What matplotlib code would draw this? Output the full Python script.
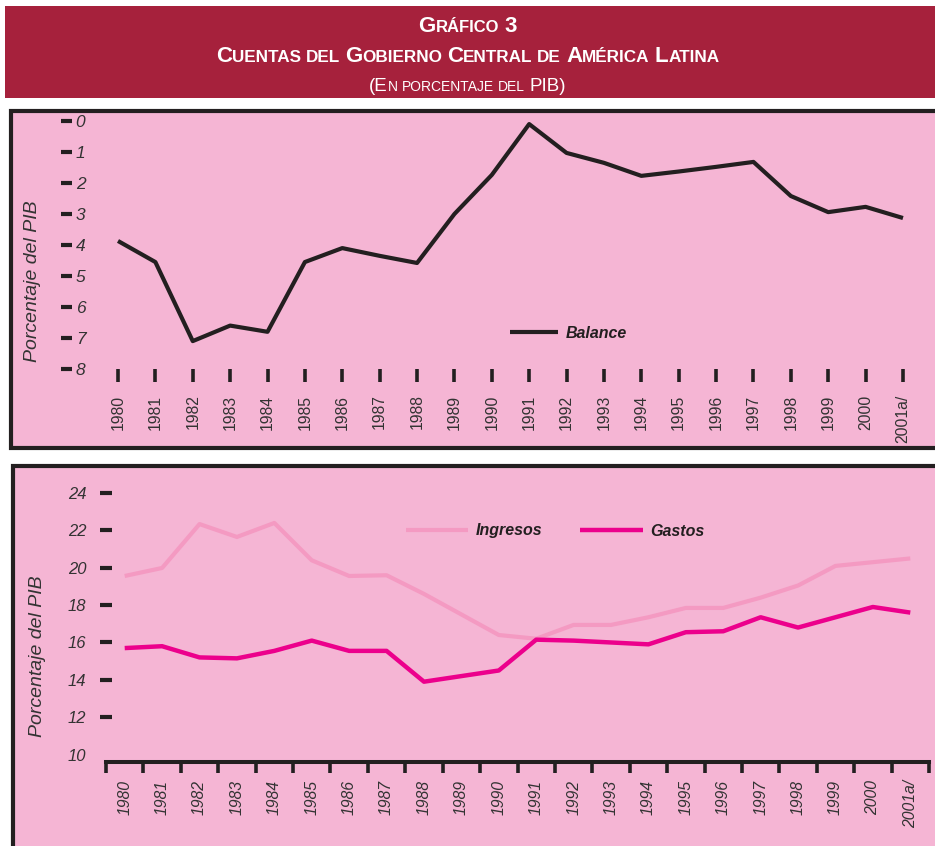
import matplotlib
matplotlib.use('Agg')
import matplotlib.pyplot as plt
from matplotlib import font_manager
from matplotlib.patches import Rectangle
from matplotlib.transforms import IdentityTransform

# datos (en porcentaje del PIB)
years = list(range(1980, 2002))
year_labels = [str(y) for y in years[:-1]] + ['2001a/']
balance = [-3.87, -4.55, -7.1, -6.6, -6.8, -4.55, -4.1, -4.35, -4.58, -3.0, -1.74,
           -0.1, -1.03, -1.35, -1.77, -1.63, -1.48, -1.32, -2.42, -2.94, -2.77, -3.13]
ingresos = [19.56, 19.99, 22.34, 21.65, 22.4, 20.4, 19.56, 19.6, 18.6, 17.5, 16.4,
            16.2, 16.94, 16.94, 17.35, 17.85, 17.85, 18.4, 19.05, 20.1, 20.3, 20.5]
gastos = [15.7, 15.8, 15.2, 15.15, 15.55, 16.1, 15.55, 15.55, 13.9, 14.2, 14.5,
          16.15, 16.1, 16.0, 15.9, 16.55, 16.6, 17.35, 16.8, 17.35, 17.9, 17.6]
bal_ticks = [0, -1, -2, -3, -4, -5, -6, -7, -8]
bal_tick_labels = ['0', '1', '2', '3', '4', '5', '6', '7', '8']
gi_ticks = [10, 12, 14, 16, 18, 20, 22, 24]

PINK = '#F5B5D4'
ROSA = '#F49AC2'
MAGENTA = '#EC008C'
DARK = '#231F20'
CRIMSON = '#A6213C'

names = {f.name for f in font_manager.fontManager.ttflist}
NARROW = 'Liberation Sans Narrow' if 'Liberation Sans Narrow' in names else 'Liberation Sans'

W, H = 935, 846
fig = plt.figure(figsize=(W / 100, H / 100), dpi=100, facecolor='white')


def box(x0, y0, x1, y1):
    # pixel box (origen arriba-izquierda) -> fracción de figura
    return [x0 / W, 1 - y1 / H, (x1 - x0) / W, (y1 - y0) / H]


# cabecera y marcos (detrás de los ejes)
hb = box(5, 6, 945, 98)
fig.patches.append(Rectangle(hb[:2], hb[2], hb[3], transform=fig.transFigure,
                             facecolor=CRIMSON, edgecolor='none', zorder=-2))
for b in [box(11, 111, 945, 448), box(13, 466, 945, 870)]:
    fig.patches.append(Rectangle(b[:2], b[2], b[3], transform=fig.transFigure,
                                 facecolor=PINK, edgecolor=DARK, linewidth=3, zorder=-2))


def small_caps(y_px, words, big, small, bold=True):
    r = fig.canvas.get_renderer()
    items = []
    x = 0
    gap = big * 0.22 * 100 / 72
    for w in words:
        for s, is_big in w:
            t = fig.text(0, 0, s, fontsize=big if is_big else small,
                         fontweight='bold' if bold else 'normal', family=NARROW,
                         color='white', transform=IdentityTransform(),
                         va='baseline', ha='left')
            items.append((t, x))
            x += t.get_window_extent(r).width
        x += gap
    x -= gap
    x0 = W / 2 - x / 2
    for t, off in items:
        t.set_position((x0 + off, H - y_px))


small_caps(32, [[('G', 1), ('RÁFICO', 0)], [('3', 1)]], 16, 12)
small_caps(62, [[('C', 1), ('UENTAS', 0)], [('DEL', 0)], [('G', 1), ('OBIERNO', 0)],
                [('C', 1), ('ENTRAL', 0)], [('DE', 0)], [('A', 1), ('MÉRICA', 0)],
                [('L', 1), ('ATINA', 0)]], 16, 12.3)
small_caps(91, [[('(E', 1), ('N', 0)], [('PORCENTAJE', 0)], [('DEL', 0)], [('PIB)', 1)]],
           13.5, 10, bold=False)

# ---- gráfico superior: balance ----
ax1 = fig.add_axes(box(72, 112, 930, 369))
ax1.set_facecolor('none')
ax1.plot(years, balance, color=DARK, lw=3, solid_capstyle='butt', label='Balance')
ax1.set_xlim(1980 + (72 - 118) / 37.38, 1980 + (930 - 118) / 37.38)
ax1.set_ylim(-8, 0.29)
for s in ax1.spines.values():
    s.set_visible(False)
ax1.set_yticks(bal_ticks)
ax1.set_yticklabels(bal_tick_labels, fontsize=12.5, style='italic', family='Liberation Sans',
                    color='#333333')
ax1.tick_params(axis='y', direction='out', length=7.8, width=3, color=DARK, pad=-10.5)
for lab in ax1.get_yticklabels():
    lab.set_ha('left')
ax1.set_xticks(years)
ax1.set_xticklabels(year_labels, rotation=90, fontsize=11.3, family=NARROW, color='#333333')
ax1.tick_params(axis='x', direction='out', length=9.4, width=2.6, color=DARK, pad=9)
fig.text(33 / W, 1 - 281 / H, 'Porcentaje del PIB', rotation=90, fontsize=14, style='italic',
         family='Liberation Sans', color='#333333', ha='center', va='center')
ax1.legend(loc='center left', bbox_to_anchor=(510 / W, 1 - 333 / H), bbox_transform=fig.transFigure,
           frameon=False, borderpad=0, borderaxespad=0, handlelength=3.0, handletextpad=0.5,
           prop=dict(family=NARROW, weight='bold', style='italic', size=11.5), labelcolor=DARK)

# ---- gráfico inferior: ingresos y gastos ----
ax2 = fig.add_axes(box(106, 480, 929, 762))
ax2.set_facecolor('none')
ax2.plot(years, ingresos, color=ROSA, lw=3, solid_capstyle='butt', label='Ingresos')
ax2.plot(years, gastos, color=MAGENTA, lw=3.2, solid_capstyle='butt', label='Gastos')
ax2.set_xlim(1979.5, 2001.5)
ax2.set_ylim(9.6, 24.7)
for k in ['top', 'right', 'left']:
    ax2.spines[k].set_visible(False)
ax2.spines['bottom'].set_linewidth(2.9)
ax2.spines['bottom'].set_color(DARK)
ax2.set_yticks(gi_ticks)
ax2.set_yticklabels([str(v) for v in gi_ticks], fontsize=12, style='italic', family='Liberation Sans',
                    color='#333333')
ax2.tick_params(axis='y', direction='inout', length=8.6, width=3, color=DARK, pad=10)
ax2.yaxis.get_major_ticks()[0].tick1line.set_visible(False)
ax2.set_xticks([y - 0.5 for y in years] + [2001.5])
ax2.set_xticklabels([])
ax2.tick_params(axis='x', which='major', direction='out', length=8, width=2.6, color=DARK)
ax2.set_xticks(years, minor=True)
ax2.set_xticklabels(year_labels, minor=True, rotation=90, fontsize=11.3, family=NARROW,
                    style='italic', color='#333333')
ax2.tick_params(axis='x', which='minor', length=0, pad=13)
fig.text(38 / W, 1 - 656 / H, 'Porcentaje del PIB', rotation=90, fontsize=14, style='italic',
         family='Liberation Sans', color='#333333', ha='center', va='center')
ax2.legend(loc='center left', bbox_to_anchor=(406 / W, 1 - 531 / H), bbox_transform=fig.transFigure,
           ncol=2, frameon=False, borderpad=0, borderaxespad=0, handlelength=3.9,
           handletextpad=0.45, columnspacing=2.4,
           prop=dict(family=NARROW, weight='bold', style='italic', size=11.5), labelcolor=DARK)

fig.savefig('out.png', dpi=100, facecolor='white')
